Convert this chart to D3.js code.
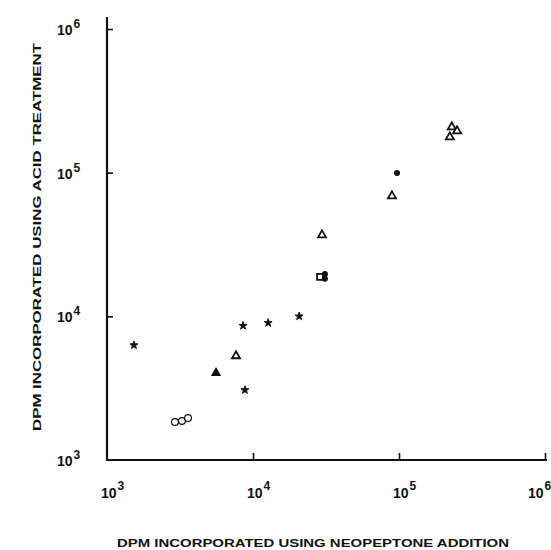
<!DOCTYPE html>
<html>
<head>
<meta charset="utf-8">
<script src="https://cdn.jsdelivr.net/npm/d3@7"></script>
<style>
html,body{margin:0;padding:0;background:#fff;}
svg{display:block;}
text{font-family:"Liberation Sans",Arial,Helvetica,sans-serif;font-weight:bold;fill:#111;}
</style>
</head>
<body>
<script>
// ---- data (DPM values) ----
const tickValues = [1e3, 1e4, 1e5, 1e6];
const tickExponents = ["3", "4", "5", "6"];

const starX = [1530, 8550, 12700, 20700, 8800];
const starY = [6300, 8600, 9000, 10000, 3070];

const openTriX = [7650, 29700, 89500, 230000, 250000, 223000];
const openTriY = [5300, 36800, 68800, 208000, 195000, 177000];

const filledTriX = [5580];
const filledTriY = [4030];

const openCircleX = [2920, 3260, 3590];
const openCircleY = [1840, 1870, 1960];

const filledCircleX = [96900, 31100, 31100];
const filledCircleY = [99500, 19700, 18300];

const squareX = [28800];
const squareY = [18800];

const xTitle = "DPM INCORPORATED USING NEOPEPTONE ADDITION";
const yTitle = "DPM  INCORPORATED USING ACID TREATMENT";

// ---- layout ----
const W = 551, H = 550;
const svg = d3.select("body").append("svg").attr("width", W).attr("height", H);

const x = d3.scaleLog().domain([1e3, 1e6]).range([107, 545]);
const y = d3.scaleLog().domain([1e3, 1e6]).range([460, 29]);

const ink = "#111";

// axes via d3 axis generators (ticks inward, custom labels)
const gx = svg.append("g").attr("transform", `translate(0,${y(1e3)})`)
  .call(d3.axisBottom(x).tickValues(tickValues.slice(1)).tickSizeInner(-7).tickSizeOuter(0).tickFormat(""));
gx.select(".domain").remove();
gx.selectAll(".tick line").attr("stroke", ink).attr("stroke-width", 1.6);

const gy = svg.append("g").attr("transform", `translate(${x(1e3)},0)`)
  .call(d3.axisLeft(y).tickValues(tickValues.slice(1)).tickSizeInner(-6).tickSizeOuter(0).tickFormat(""));
gy.select(".domain").remove();
gy.selectAll(".tick line").attr("stroke", ink).attr("stroke-width", 1.6);

// axis lines
svg.append("line").attr("x1", x(1e3)).attr("x2", x(1e6) + 2)
  .attr("y1", y(1e3)).attr("y2", y(1e3)).attr("stroke", ink).attr("stroke-width", 2.2);
svg.append("line").attr("x1", x(1e3)).attr("x2", x(1e3))
  .attr("y1", y(1e3) + 1).attr("y2", y(1e6) - 12).attr("stroke", ink).attr("stroke-width", 2.2);

// tick labels: 10 with superscript exponent
const labelW = 23;
tickValues.forEach((v, i) => {
  const lx = Math.min(x(v) - 6, W - labelW);
  const t = svg.append("text").attr("x", lx).attr("y", 498).attr("font-size", 14);
  t.append("tspan").text("10");
  t.append("tspan").attr("dy", -8).attr("dx", 1).attr("font-size", 12).text(tickExponents[i]);

  const t2 = svg.append("text").attr("x", 57).attr("y", y(v) + 6).attr("font-size", 14);
  t2.append("tspan").text("10");
  t2.append("tspan").attr("dy", -7).attr("dx", 1).attr("font-size", 12).text(tickExponents[i]);
});

// axis titles
svg.append("text").attr("x", 313).attr("y", 547).attr("text-anchor", "middle")
  .attr("font-size", 11).attr("textLength", 392).attr("lengthAdjust", "spacingAndGlyphs").text(xTitle);
svg.append("text").attr("transform", "translate(41,237) rotate(-90)").attr("text-anchor", "middle")
  .attr("font-size", 11).attr("textLength", 388).attr("lengthAdjust", "spacingAndGlyphs").text(yTitle);

// ---- markers ----
function pts(xs, ys) { return xs.map((v, i) => ({x: v, y: ys[i]})); }

const star = d3.symbol().type(d3.symbolStar).size(20);
svg.append("g").selectAll("path").data(pts(starX, starY)).join("path")
  .attr("d", star).attr("transform", d => `translate(${x(d.x)},${y(d.y)})`)
  .attr("fill", ink).attr("stroke", ink).attr("stroke-width", 1);

const tri = d3.symbol().type(d3.symbolTriangle).size(28);
svg.append("g").selectAll("path").data(pts(openTriX, openTriY)).join("path")
  .attr("d", tri).attr("transform", d => `translate(${x(d.x)},${y(d.y)})`)
  .attr("fill", "#fff").attr("stroke", ink).attr("stroke-width", 1.8);

const triBig = d3.symbol().type(d3.symbolTriangle).size(46);
svg.append("g").selectAll("path").data(pts(filledTriX, filledTriY)).join("path")
  .attr("d", triBig).attr("transform", d => `translate(${x(d.x)},${y(d.y)})`)
  .attr("fill", ink);

svg.append("g").selectAll("circle").data(pts(openCircleX, openCircleY)).join("circle")
  .attr("cx", d => x(d.x)).attr("cy", d => y(d.y)).attr("r", 3.4)
  .attr("fill", "#fff").attr("stroke", ink).attr("stroke-width", 1.2);

const sq = d3.symbol().type(d3.symbolSquare).size(36);
svg.append("g").selectAll("path").data(pts(squareX, squareY)).join("path")
  .attr("d", sq).attr("transform", d => `translate(${x(d.x)},${y(d.y)})`)
  .attr("fill", "#fff").attr("stroke", ink).attr("stroke-width", 1.8);

svg.append("g").selectAll("circle").data(pts(filledCircleX, filledCircleY)).join("circle")
  .attr("cx", d => x(d.x)).attr("cy", d => y(d.y)).attr("r", 3)
  .attr("fill", ink);
</script>
</body>
</html>
